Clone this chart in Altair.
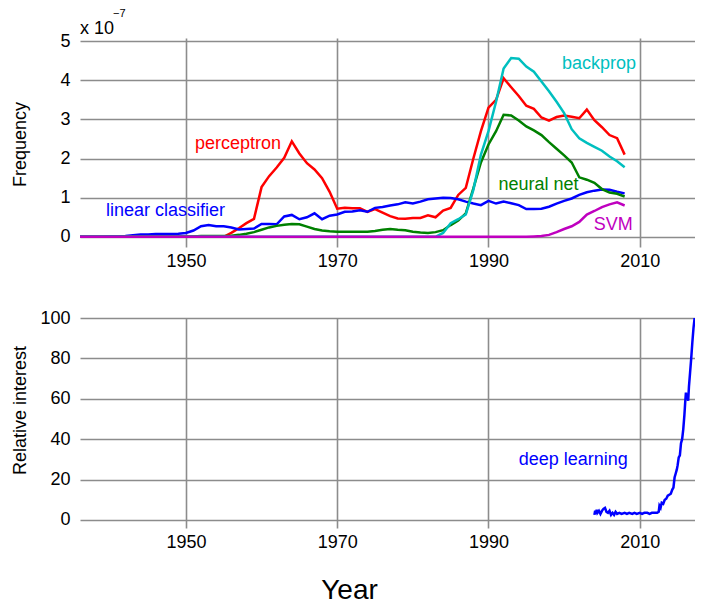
import altair as alt
import pandas as pd

# ---------------- data ----------------
years = list(range(1936, 2009))

perceptron = [0, 0, 0, 0, 0, 0, 0, 0, 0, 0,
              0, 0, 0, 0, 0, 0, 0, 0, 0, 0,
              0.1, 0.22, 0.35, 0.46, 1.27, 1.55, 1.77, 2.02, 2.44, 2.13,
              1.88, 1.72, 1.5, 1.15, 0.72, 0.74, 0.73, 0.73, 0.64, 0.71,
              0.62, 0.53, 0.47, 0.46, 0.48, 0.48, 0.55, 0.5, 0.67, 0.74,
              1.07, 1.25, 2.0, 2.7, 3.3, 3.5, 4.05, 3.82, 3.6, 3.35,
              3.27, 3.05, 2.97, 3.06, 3.1, 3.07, 3.03, 3.25, 2.98, 2.8,
              2.6, 2.52, 2.1]

linear_classifier = [0, 0, 0, 0, 0.01, 0.01, 0.02, 0.04, 0.06, 0.06,
                     0.07, 0.07, 0.07, 0.08, 0.1, 0.16, 0.27, 0.3, 0.27, 0.27,
                     0.24, 0.19, 0.2, 0.21, 0.33, 0.33, 0.32, 0.52, 0.56, 0.45,
                     0.5, 0.6, 0.45, 0.54, 0.57, 0.64, 0.65, 0.68, 0.64, 0.74,
                     0.76, 0.8, 0.83, 0.88, 0.85, 0.9, 0.96, 0.98, 1.0, 0.99,
                     0.96, 0.9, 0.85, 0.81, 0.92, 0.85, 0.9, 0.86, 0.81, 0.71,
                     0.71, 0.72, 0.77, 0.85, 0.92, 0.98, 1.07, 1.14, 1.18, 1.21,
                     1.2, 1.15, 1.11]

neural_net = [0, 0, 0, 0, 0, 0, 0.01, 0.01, 0.01, 0.01,
              0.01, 0.01, 0.01, 0.01, 0.01, 0.01, 0.02, 0.02, 0.02, 0.02,
              0.03, 0.05, 0.08, 0.12, 0.18, 0.24, 0.28, 0.31, 0.33, 0.32,
              0.26, 0.2, 0.16, 0.14, 0.13, 0.13, 0.13, 0.13, 0.13, 0.15,
              0.18, 0.2, 0.18, 0.17, 0.13, 0.11, 0.1, 0.12, 0.17, 0.3,
              0.42, 0.6, 1.24, 1.9, 2.36, 2.7, 3.12, 3.1, 2.97, 2.82,
              2.72, 2.6, 2.42, 2.25, 2.08, 1.9, 1.52, 1.46, 1.38, 1.22,
              1.13, 1.1, 1.03]

backprop = [0, 0, 0, 0, 0, 0, 0, 0, 0, 0,
            0, 0, 0, 0, 0, 0, 0, 0, 0, 0,
            0, 0, 0, 0, 0, 0, 0, 0, 0, 0,
            0, 0, 0, 0, 0, 0, 0, 0, 0, 0,
            0, 0, 0, 0, 0, 0, 0, 0, 0.1, 0.35,
            0.45, 0.57, 1.2, 2.1, 2.7, 3.45, 4.3, 4.57, 4.55, 4.35,
            4.22, 3.97, 3.72, 3.45, 3.16, 2.75, 2.52, 2.4, 2.3, 2.2,
            2.05, 1.93, 1.78]

svm = [0, 0, 0, 0, 0, 0, 0, 0, 0, 0,
       0, 0, 0, 0, 0, 0, 0, 0, 0, 0,
       0, 0, 0, 0, 0, 0, 0, 0, 0, 0,
       0, 0, 0, 0, 0, 0, 0, 0, 0, 0,
       0, 0, 0, 0, 0, 0, 0, 0, 0, 0,
       0, 0, 0, 0, 0, 0, 0, 0, 0, 0,
       0.01, 0.02, 0.05, 0.12, 0.2, 0.27, 0.38, 0.57, 0.66, 0.76,
       0.83, 0.88, 0.8]

series_names = ["perceptron", "linear classifier", "neural net", "backprop", "SVM"]
series_values = [perceptron, linear_classifier, neural_net, backprop, svm]
series_colors = ["#ff0000", "#0000ff", "#008000", "#00bfbf", "#bf00bf"]

# label anchor (year, value) for each series name
label_years = [1956.9, 1947.3, 1996.6, 2004.6, 2006.5]
label_values = [2.36, 0.67, 1.33, 4.41, 0.31]

# Google Trends "deep learning"
dl_years = [2004.0, 2004.1, 2004.2, 2004.3, 2004.4, 2004.6, 2004.8, 2005.0, 2005.2, 2005.4,
            2005.6, 2005.8, 2006.0, 2006.2, 2006.4, 2006.6, 2006.8, 2007.0, 2007.3, 2007.6,
            2008.0, 2008.3, 2008.6, 2009.0, 2009.3, 2009.6, 2010.0, 2010.3, 2010.6, 2011.0,
            2011.3, 2011.6, 2012.0, 2012.3, 2012.5, 2012.6, 2012.75, 2012.9, 2013.1, 2013.3,
            2013.5, 2013.7, 2013.9, 2014.1, 2014.3, 2014.45, 2014.6, 2014.75, 2014.9, 2015.0,
            2015.15, 2015.3, 2015.45, 2015.6, 2015.75, 2015.9, 2016.0, 2016.1, 2016.2, 2016.3,
            2016.4, 2016.5, 2016.65, 2016.8, 2016.95, 2017.1, 2017.25]
dl_values = [2.5, 4.5, 3.0, 5.0, 3.5, 4.5, 3.0, 4.5, 5.5, 6.0,
             4.0, 3.5, 4.5, 2.5, 3.5, 2.5, 4.0, 3.0, 3.5, 3.0,
             3.5, 3.0, 3.5, 3.0, 3.5, 3.0, 3.5, 3.0, 3.5, 3.5,
             3.0, 3.5, 3.5, 3.5, 4.0, 7.0, 6.0, 8.5, 8.0, 10.0,
             10.5, 12.0, 12.5, 13.0, 15.0, 16.0, 21.0, 23.0, 25.0, 27.0,
             31.0, 32.0, 38.0, 40.0, 45.0, 52.0, 58.0, 63.0, 60.0, 62.0,
             59.0, 66.0, 73.0, 80.0, 88.0, 95.0, 100.0]
dl_label = "deep learning"
dl_label_year = 2001.2
dl_label_value = 29.7

x_ticks = [1950, 1970, 1990, 2010]
top_ticks = [0, 1, 2, 3, 4, 5]
bottom_ticks = [0, 20, 40, 60, 80, 100]

# ---------------- chart ----------------
FONT = "Liberation Sans"
x_domain = [1936, 2017.3]
W = 615

xscale = alt.Scale(domain=x_domain, nice=False, zero=False)

top_layers = []
for name, vals, col in zip(series_names, series_values, series_colors):
    df = pd.DataFrame({"year": years, "value": vals})
    top_layers.append(
        alt.Chart(df).mark_line(color=col, strokeWidth=2.5, clip=True).encode(
            x=alt.X("year:Q", scale=xscale,
                    axis=alt.Axis(values=x_ticks, format="d", title=None)),
            y=alt.Y("value:Q", scale=alt.Scale(domain=[-0.26, 5.08], nice=False, zero=False),
                    axis=alt.Axis(values=top_ticks, title="Frequency",
                                  titleX=-51, titleY=106)),
        )
    )

lab_df = pd.DataFrame({"name": series_names, "year": label_years,
                       "value": label_values, "color": series_colors})
top_labels = alt.Chart(lab_df).mark_text(font=FONT, fontSize=18, align="center",
                                         baseline="middle").encode(
    x="year:Q", y="value:Q", text="name:N",
    color=alt.Color("color:N", scale=None),
)

exp_df = pd.DataFrame({"t": ["x 10"], "s": ["\u22127"]})
exp_main = alt.Chart(exp_df).mark_text(font=FONT, fontSize=18, align="left",
                                       baseline="alphabetic", color="black").encode(
    x=alt.value(0), y=alt.value(-4), text="t:N")
exp_sup = alt.Chart(exp_df).mark_text(font=FONT, fontSize=11, align="left",
                                      baseline="alphabetic", color="black").encode(
    x=alt.value(33), y=alt.value(-21), text="s:N")

top = alt.layer(*top_layers, top_labels, exp_main, exp_sup).properties(width=W, height=209)

dl_df = pd.DataFrame({"year": dl_years, "value": dl_values})
bottom_line = alt.Chart(dl_df).mark_line(color="#0000ff", strokeWidth=2.5, clip=True).encode(
    x=alt.X("year:Q", scale=xscale,
            axis=alt.Axis(values=x_ticks, format="d", title="Year", titleFontSize=28,
                          titleX=269, titleY=70, titleBaseline="alphabetic",
                          titleAlign="center", titleFontWeight="normal")),
    y=alt.Y("value:Q", scale=alt.Scale(domain=[-4, 100], nice=False, zero=False),
            axis=alt.Axis(values=bottom_ticks, title="Relative interest",
                          titleX=-51, titleY=92)),
)
dl_lab_df = pd.DataFrame({"name": [dl_label], "year": [dl_label_year], "value": [dl_label_value]})
bottom_label = alt.Chart(dl_lab_df).mark_text(font=FONT, fontSize=18, align="center",
                                              baseline="middle", color="#0000ff").encode(
    x="year:Q", y="value:Q", text="name:N")

bottom = alt.layer(bottom_line, bottom_label).properties(width=W, height=210)

chart = alt.vconcat(top, bottom, spacing=39).properties(
    padding={"left": 3, "top": 0, "right": 0, "bottom": 0}
).configure_view(stroke=None).configure_axis(
    domain=False, ticks=False, grid=True, gridColor="#8c8c8c", gridWidth=1.6,
    labelFont=FONT, labelFontSize=18, labelColor="black",
    titleFont=FONT, titleFontSize=18, titleColor="black", titleFontWeight="normal",
).configure_axisY(labelPadding=10).configure_axisX(labelPadding=5)

chart.save("out.html", embed_options={"renderer": "svg", "actions": False})
